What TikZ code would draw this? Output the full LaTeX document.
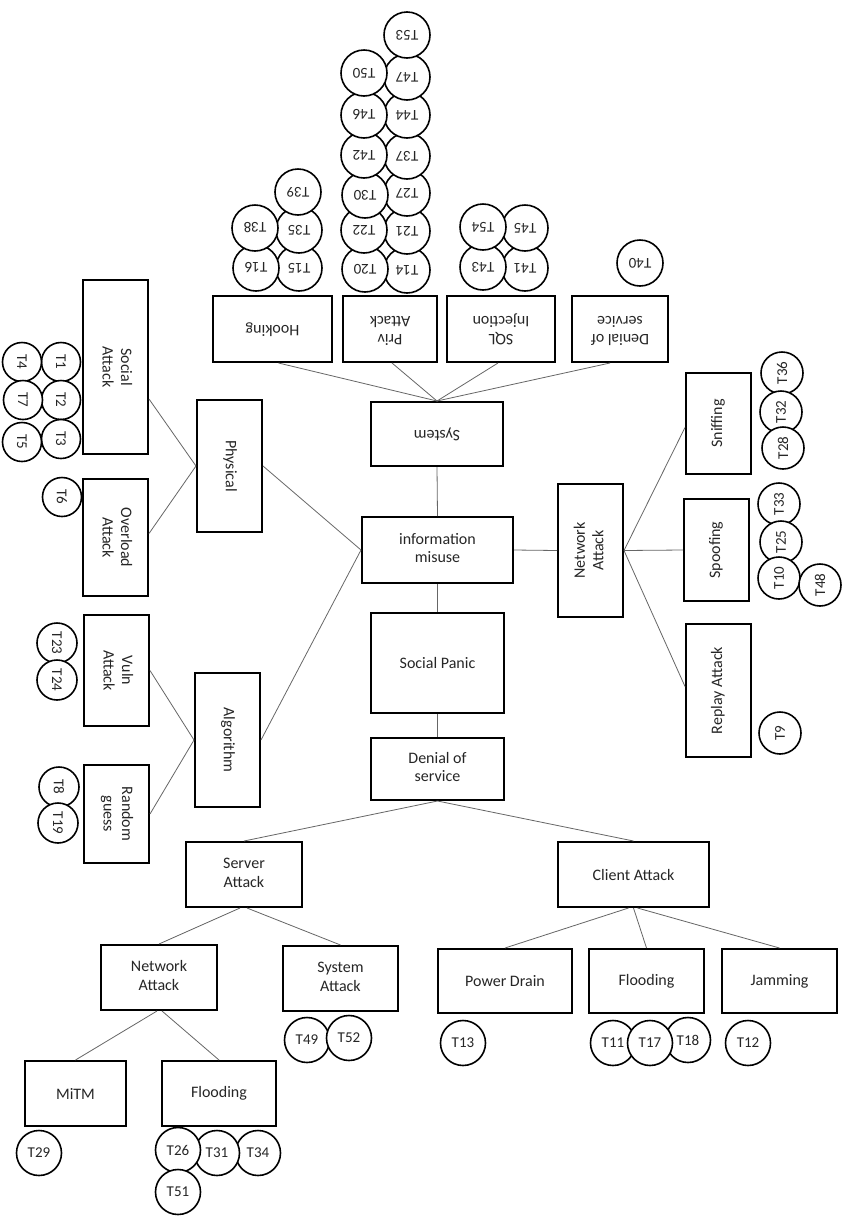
\documentclass[tikz,border=0pt]{standalone}
\usepackage{fontspec}
\setmainfont{Carlito}
\usepackage{graphicx}
\usetikzlibrary{calc}
\newcommand{\boxfont}{\fontsize{16}{19.5}\selectfont}
\newcommand{\circfont}{\fontsize{15}{18}\selectfont}
\newcommand{\rtxt}[2]{\rotatebox{#1}{\begin{tabular}{@{}c@{}}#2\end{tabular}}}
\begin{document}
\begin{tikzpicture}[x=1pt,y=-1pt,
  box/.style={draw=black, line width=2pt, inner sep=0pt, font=\boxfont, text=black!85},
  circ/.style={circle, draw=black, line width=1.6pt, fill=white, inner sep=0pt, font=\circfont, text=black!85},
  ct/.style={circ, minimum size=46pt, rotate=180},
  cl/.style={circ, minimum size=39pt, rotate=-90},
  cr/.style={circ, minimum size=42pt, rotate=90},
  cb/.style={circ, minimum size=45pt},
  conn/.style={draw=black!60, line width=0.8pt}]
\useasboundingbox (0,0) rectangle (861,1216);
\fill[white] (0,0) rectangle (861,1216);
\renewcommand{\arraystretch}{0.95}
% centre column
\node[box, minimum width=132pt, minimum height=64pt] (sys) at (437,434) {\rtxt{180}{System}};
\node[box, minimum width=151pt, minimum height=66pt] (info) at (437.5,550) {\rtxt{0}{information\\misuse}};
\node[box, minimum width=133pt, minimum height=100pt] (panic) at (437.5,663) {Social Panic};
\node[box, minimum width=133pt, minimum height=62pt] (dos) at (437.5,769) {\rtxt{0}{Denial of\\service}};
% top boxes
\node[box, minimum width=119pt, minimum height=66pt] (hook) at (272.5,329) {\rtxt{180}{Hooking}};
\node[box, minimum width=94pt, minimum height=66pt] (priv) at (390,329) {\rtxt{180}{Priv\\Attack}};
\node[box, minimum width=108pt, minimum height=66pt] (sql) at (501,329) {\rtxt{180}{SQL\\Injection}};
\node[box, minimum width=96pt, minimum height=66pt] (dost) at (620,329) {\rtxt{180}{Denial of\\service}};
% left boxes
\node[box, minimum width=65pt, minimum height=174pt] (social) at (115.5,367) {\rtxt{-90}{Social\\Attack}};
\node[box, minimum width=65pt, minimum height=117pt] (overload) at (115.5,537.5) {\rtxt{-90}{Overload\\Attack}};
\node[box, minimum width=65pt, minimum height=132pt] (phys) at (229.5,466) {\rtxt{-90}{Physical}};
\node[box, minimum width=65pt, minimum height=111pt] (vuln) at (116.5,670.5) {\rtxt{-90}{Vuln\\Attack}};
\node[box, minimum width=65pt, minimum height=98pt] (rand) at (116.5,814) {\rtxt{-90}{Random\\guess}};
\node[box, minimum width=65pt, minimum height=134pt] (algo) at (227.5,740) {\rtxt{-90}{Algorithm}};
% right boxes
\node[box, minimum width=65pt, minimum height=133pt] (neta) at (590.5,550.5) {\rtxt{90}{Network\\Attack}};
\node[box, minimum width=65pt, minimum height=101pt] (sniff) at (718.5,423.5) {\rtxt{90}{Sniffing}};
\node[box, minimum width=65pt, minimum height=102pt] (spoof) at (716.5,550) {\rtxt{90}{Spoofing}};
\node[box, minimum width=65pt, minimum height=133pt] (replay) at (718.5,690.5) {\rtxt{90}{Replay Attack}};
% bottom boxes
\node[box, minimum width=116pt, minimum height=65pt] (server) at (244,874.5) {\rtxt{0}{Server\\Attack}};
\node[box, minimum width=151pt, minimum height=65pt] (client) at (633.5,874.5) {Client Attack};
\node[box, minimum width=116pt, minimum height=65pt] (netb) at (159,977.5) {\rtxt{0}{Network\\Attack}};
\node[box, minimum width=115pt, minimum height=65pt] (sysa) at (340.5,978.5) {\rtxt{0}{System\\Attack}};
\node[box, minimum width=101pt, minimum height=65pt] (mitm) at (75.5,1093.5) {MiTM};
\node[box, minimum width=114pt, minimum height=65pt] (floodl) at (219,1093.5) {Flooding};
\node[box, minimum width=134pt, minimum height=64pt] (power) at (505,981) {Power Drain};
\node[box, minimum width=115pt, minimum height=64pt] (floodr) at (646.5,981) {Flooding};
\node[box, minimum width=115pt, minimum height=64pt] (jam) at (779.5,981) {Jamming};
% connectors
\draw[conn] (sys.south) -- (info.north);
\draw[conn] (info.south) -- (panic.north);
\draw[conn] (panic.south) -- (dos.north);
\draw[conn] ($(hook.south)+(6,0)$) -- (sys.north);
\draw[conn] ($(priv.south)+(2,0)$) -- (sys.north);
\draw[conn] ($(sql.south)+(-3,0)$) -- (sys.north);
\draw[conn] ($(dost.south)+(-10,0)$) -- (sys.north);
\draw[conn] ($(social.east)+(0,32)$) -- (phys.west);
\draw[conn] ($(overload.east)+(0,-4)$) -- (phys.west);
\draw[conn] (phys.east) -- (info.west);
\draw[conn] (vuln.east) -- (algo.west);
\draw[conn] (rand.east) -- (algo.west);
\draw[conn] (algo.east) -- (info.west);
\draw[conn] (info.east) -- (neta.west);
\draw[conn] (neta.east) -- ($(sniff.west)+(0,4)$);
\draw[conn] (neta.east) -- (spoof.west);
\draw[conn] (neta.east) -- ($(replay.west)+(0,-4)$);
\draw[conn] (dos.south) -- (server.north);
\draw[conn] (dos.south) -- (client.north);
\draw[conn] ($(server.south)+(-4,0)$) -- (netb.north);
\draw[conn] ($(server.south)+(3,0)$) -- (sysa.north);
\draw[conn] ($(netb.south)+(-2,0)$) -- (mitm.north);
\draw[conn] ($(netb.south)+(3,0)$) -- (floodl.north);
\draw[conn] ($(client.south)+(-5,0)$) -- (power.north);
\draw[conn] (client.south) -- (floodr.north);
\draw[conn] ($(client.south)+(4,0)$) -- (jam.north);
% top circles: Hooking
\node[ct] (t15) at (299,268) {T15};
\node[ct] (t16) at (256,268) {T16};
\node[ct] (t35) at (299,230) {T35};
\node[ct] (t38) at (255,228) {T38};
\node[ct] (t39) at (298,192) {T39};
% Priv Attack
\node[ct] (t14) at (407,270) {T14};
\node[ct] (t20) at (365,269) {T20};
\node[ct] (t21) at (407,231) {T21};
\node[ct] (t22) at (364,230) {T22};
\node[ct] (t27) at (407,193) {T27};
\node[ct] (t30) at (365,195) {T30};
\node[ct] (t37) at (407,156) {T37};
\node[ct] (t42) at (364,155) {T42};
\node[ct] (t44) at (407,115) {T44};
\node[ct] (t46) at (364,115) {T46};
\node[ct] (t47) at (407,77) {T47};
\node[ct] (t50) at (364,73) {T50};
\node[ct] (t53) at (407,35) {T53};
% SQL
\node[ct] (t41) at (525,268) {T41};
\node[ct] (t43) at (483,267) {T43};
\node[ct] (t45) at (525,228) {T45};
\node[ct] (t54) at (483,227) {T54};
% DoS top
\node[ct] (t40) at (640,263) {T40};
% left circles
\node[cl] (t1) at (61,362) {T1};
\node[cl] (t4) at (22,362) {T4};
\node[cl] (t2) at (61,400) {T2};
\node[cl] (t7) at (23,400) {T7};
\node[cl] (t3) at (61,439) {T3};
\node[cl] (t5) at (22,442) {T5};
\node[cl] (t6) at (62,497) {T6};
\node[cl, minimum size=40pt] (t23) at (57,643) {T23};
\node[cl, minimum size=40pt] (t24) at (57,680) {T24};
\node[cl, minimum size=40pt] (t8) at (59,787) {T8};
\node[cl, minimum size=40pt] (t19) at (58,823) {T19};
% right circles
\node[cr] (t36) at (782,373) {T36};
\node[cr] (t32) at (781,412) {T32};
\node[cr] (t28) at (783,448) {T28};
\node[cr] (t33) at (779,504) {T33};
\node[cr] (t25) at (781,542) {T25};
\node[cr] (t10) at (779,578) {T10};
\node[cr] (t48) at (820,585) {T48};
\node[cr] (t9) at (780,733) {T9};
% bottom circles
\node[cb] (t29) at (39,1153) {T29};
\node[cb] (t34) at (258,1153) {T34};
\node[cb] (t31) at (217,1153) {T31};
\node[cb] (t26) at (178,1150) {T26};
\node[cb] (t51) at (178,1192) {T51};
\node[cb] (t49) at (307,1040) {T49};
\node[cb] (t52) at (349,1038) {T52};
\node[cb] (t13) at (463,1043) {T13};
\node[cb] (t11) at (613,1043) {T11};
\node[cb] (t18) at (688,1040) {T18};
\node[cb] (t17) at (650,1043) {T17};
\node[cb] (t12) at (748,1043) {T12};
\end{tikzpicture}
\end{document}
